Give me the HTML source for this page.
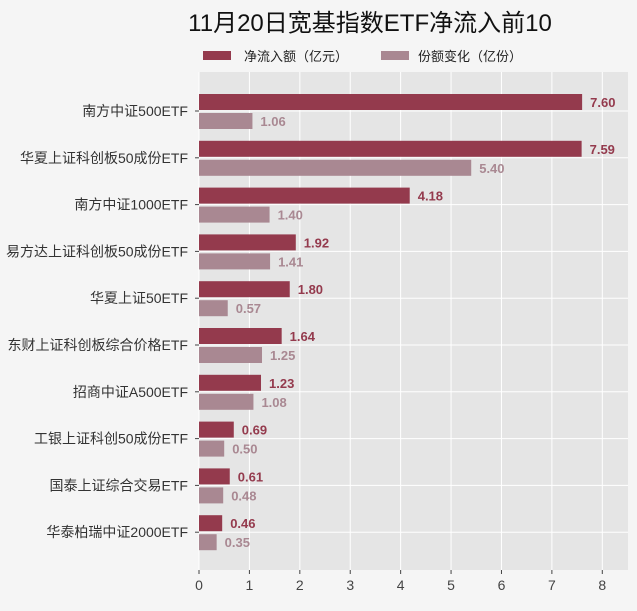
<!DOCTYPE html>
<html><head><meta charset="utf-8"><style>
body{margin:0;background:#f5f5f5;width:637px;height:606px;overflow:hidden;font-family:"Liberation Sans","Noto Sans CJK SC",sans-serif;}
</style></head><body>
<svg id="chart" width="637" height="606" xmlns="http://www.w3.org/2000/svg" style="font-family:'Liberation Sans','Noto Sans CJK SC',sans-serif">
<text x="370" y="31" font-size="24" text-anchor="middle" fill="#111">11月20日宽基指数ETF净流入前10</text>
<g>
<rect x="203" y="51" width="28" height="9" fill="#943a4d"/>
<text x="244" y="61" font-size="13" fill="#222">净流入额（亿元）</text>
<rect x="381" y="51" width="28" height="9" fill="#a98892"/>
<text x="418" y="61" font-size="13" fill="#222">份额变化（亿份）</text>
</g>
<rect x="199" y="72" width="429" height="498" fill="#e5e5e5"/>
<g id="grid"></g><g id="bars"></g><g id="axes"></g>
</svg>
<script>
const categories=["南方中证500ETF","华夏上证科创板50成份ETF","南方中证1000ETF","易方达上证科创板50成份ETF","华夏上证50ETF","东财上证科创板综合价格ETF","招商中证A500ETF","工银上证科创50成份ETF","国泰上证综合交易ETF","华泰柏瑞中证2000ETF"];
const inflow=[7.60,7.59,4.18,1.92,1.80,1.64,1.23,0.69,0.61,0.46];
const shares=[1.06,5.40,1.40,1.41,0.57,1.25,1.08,0.50,0.48,0.35];
const xTicks=[0,1,2,3,4,5,6,7,8];
const NS="http://www.w3.org/2000/svg";
const x0=199,xr=628,yt=72,yb=570,xMax=8.51;
const X=v=>x0+v/xMax*(xr-x0);
const Y=i=>111+i*46.8;
function mk(tag,attrs,parent,text){const e=document.createElementNS(NS,tag);for(const k in attrs)e.setAttribute(k,attrs[k]);if(text!==undefined)e.textContent=text;parent.appendChild(e);return e;}
const grid=document.getElementById('grid'),bars=document.getElementById('bars'),axes=document.getElementById('axes');
xTicks.forEach(t=>{
 const l=mk('line',{x1:X(t),x2:X(t),y1:yt,y2:yb,stroke:'#fff','stroke-width':1},grid);
 
 
 const tk=mk('line',{x1:X(t),x2:X(t),y1:yb,y2:yb+4,stroke:'#444'},axes);
 
 
 const tx=mk('text',{x:X(t),y:yb+20,'font-size':14,'text-anchor':'middle',fill:'#444'},axes,String(t));
 
 
});
categories.forEach((c,i)=>{
 const y=Y(i);
 const g=mk('line',{x1:x0,x2:xr,y1:y,y2:y,stroke:'#fff'},grid);
 
 
 const tk=mk('line',{x1:x0-4,x2:x0,y1:y,y2:y,stroke:'#444'},axes);
 
 
 const lb=mk('text',{x:x0-11,y:y+5,'font-size':14,'text-anchor':'end',fill:'#333'},axes,c);
 
 
 const b1=mk('rect',{x:x0,y:y-17,width:X(inflow[i])-x0,height:16,fill:'#943a4d'},bars);
 
 
 const v1=mk('text',{x:X(inflow[i])+8,y:y-4,'font-size':13,'font-weight':'bold',fill:'#943a4d'},bars,inflow[i].toFixed(2));
 
 
 const b2=mk('rect',{x:x0,y:y+2,width:X(shares[i])-x0,height:16,fill:'#a98892'},bars);
 
 
 const v2=mk('text',{x:X(shares[i])+8,y:y+15,'font-size':13,'font-weight':'bold',fill:'#a98892'},bars,shares[i].toFixed(2));
 
 
});
</script>
</body></html>
